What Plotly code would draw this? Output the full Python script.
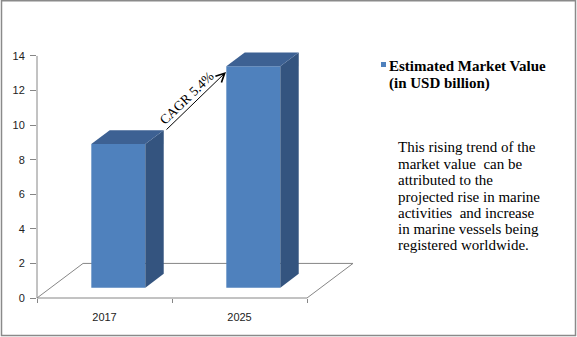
import plotly.graph_objects as go

# ---------------- data ----------------
categories = ["2017", "2025"]
market_value = [8.3, 12.8]          # USD billion
y_ticks = [0, 2, 4, 6, 8, 10, 12, 14]
cagr_label = "CAGR 5.4%"
legend_lines = ["Estimated Market Value", "(in USD billion)"]
note_lines = [
    "This rising trend of the",
    "market value\u00a0 can be",
    "attributed to the",
    "projected rise in marine",
    "activities\u00a0 and increase",
    "in marine vessels being",
    "registered worldwide.",
]

# ---------------- geometry / style ----------------
W, H = 577, 337
PL, PR, PT, PB = 37, 365, 46, 300      # plot area in px
XPX0, XUNIT = 37, 135.0                # px of x=-0.5, px per category
YPX0, YUNIT = 298, 17.29               # px of y=0, px per unit
xr = [-0.5, -0.5 + (PR - XPX0) / XUNIT]
yr = [-(PB - YPX0) / YUNIT, (YPX0 - PT) / YUNIT]


def pxx(x):
    return (x - PL) / (PR - PL)


def pxy(y):
    return (PB - y) / (PB - PT)


def dx_(x):  # pixel x -> data x
    return -0.5 + (x - XPX0) / XUNIT


def dy_(y):  # pixel y -> data y
    return (YPX0 - y) / YUNIT


DX, DY = 0.341, 2.0       # full floor depth in data units
D0, D1 = 0.30, 0.70       # bar depth span (fraction)
HW = 0.2                  # bar half width

FRONT = "#4F81BD"
SIDE = "#34547F"
TOP = "#3D6193"
GRAY = "#868686"
SERIF = "Liberation Serif"
SANS = "Liberation Sans"

xs = list(range(len(categories)))

fig = go.Figure()

# front faces
fig.add_trace(go.Bar(
    x=[i + D0 * DX for i in xs], y=market_value, base=D0 * DY,
    width=2 * HW, marker=dict(color=FRONT, line=dict(width=0)),
    showlegend=False, hoverinfo="skip",
))

# side and top faces
for i, v in zip(xs, market_value):
    xl, xrr = i - HW, i + HW
    side_x = [xrr + D0 * DX, xrr + D1 * DX, xrr + D1 * DX, xrr + D0 * DX, xrr + D0 * DX]
    side_y = [D0 * DY, D1 * DY, v + D1 * DY, v + D0 * DY, D0 * DY]
    fig.add_trace(go.Scatter(x=side_x, y=side_y, fill="toself", fillcolor=SIDE,
                             mode="lines", line=dict(width=0, color=SIDE),
                             showlegend=False, hoverinfo="skip"))
    top_x = [xl + D0 * DX, xrr + D0 * DX, xrr + D1 * DX, xl + D1 * DX, xl + D0 * DX]
    top_y = [v + D0 * DY, v + D0 * DY, v + D1 * DY, v + D1 * DY, v + D0 * DY]
    fig.add_trace(go.Scatter(x=top_x, y=top_y, fill="toself", fillcolor=TOP,
                             mode="lines", line=dict(width=0, color=TOP),
                             showlegend=False, hoverinfo="skip"))

shapes = []
# floor (below traces)
x_lo, x_hi = -0.5, len(categories) - 0.5
shapes.append(dict(
    type="path", xref="x", yref="y", layer="below",
    path=f"M{x_lo},0 L{x_hi},0 L{x_hi + DX},{DY} L{x_lo + DX},{DY} Z",
    line=dict(color=GRAY, width=1), fillcolor="rgba(0,0,0,0)",
))
# y axis line
shapes.append(dict(type="line", xref="paper", yref="y", x0=0, x1=0,
                   y0=0, y1=y_ticks[-1], line=dict(color=GRAY, width=1)))
# outer border
shapes.append(dict(type="rect", xref="paper", yref="paper",
                   x0=pxx(1.5), x1=pxx(575.5), y0=pxy(335.5), y1=pxy(0.8),
                   line=dict(color="#8a8a8a", width=1.5)))
# legend marker
shapes.append(dict(type="rect", xref="paper", yref="paper",
                   x0=pxx(381), x1=pxx(386), y0=pxy(67), y1=pxy(62),
                   line=dict(width=0), fillcolor=FRONT))

annotations = []
# CAGR arrow
annotations.append(dict(
    x=dx_(226), y=dy_(72), ax=dx_(165), ay=dy_(131), xref="x", yref="y",
    axref="x", ayref="y", text="", showarrow=True, arrowhead=5,
    arrowsize=1.7, arrowwidth=1, arrowcolor="black", standoff=0, startstandoff=0,
))
annotations.append(dict(
    x=dx_(186), y=dy_(98), xref="x", yref="y", text=cagr_label, showarrow=False,
    textangle=-44, font=dict(family=SERIF, size=13.5, color="black"),
))
# legend text
for k, (line, ypix) in enumerate(zip(legend_lines, [66, 84])):
    annotations.append(dict(
        x=pxx(387), y=pxy(ypix), xref="paper", yref="paper", xanchor="left",
        yanchor="middle", text=f"<b>{line}</b>", showarrow=False,
        font=dict(family=SERIF, size=15, color="black"),
    ))
# note text
note_y = [147, 164, 180, 197, 213, 229, 245]
for line, ypix in zip(note_lines, note_y):
    annotations.append(dict(
        x=pxx(396), y=pxy(ypix), xref="paper", yref="paper", xanchor="left",
        yanchor="middle", text=line, showarrow=False,
        font=dict(family=SERIF, size=15, color="black"),
    ))

fig.update_layout(
    width=W, height=H,
    margin=dict(l=PL, r=W - PR, t=PT, b=H - PB, pad=0),
    paper_bgcolor="white", plot_bgcolor="white",
    showlegend=False,
    shapes=shapes, annotations=annotations,
    xaxis=dict(
        range=xr, tickmode="array", tickvals=xs, ticktext=categories,
        ticks="", showline=False, showgrid=False, zeroline=False,
        anchor="free", position=pxy(YPX0),
        tickfont=dict(family=SANS, size=11, color="#222"),
        ticklabelstandoff=11,
        minor=dict(tickmode="array", tickvals=[-0.5, 0.5, 1.5], ticks="outside",
                   ticklen=4, tickcolor=GRAY, tickwidth=1, showgrid=False),
        fixedrange=True,
    ),
    yaxis=dict(
        range=yr, tickmode="array", tickvals=y_ticks, ticks="outside",
        ticklen=6, tickcolor=GRAY, tickwidth=1, showline=False, showgrid=False,
        zeroline=False, tickfont=dict(family=SANS, size=11, color="#222"),
        ticklabelstandoff=3, fixedrange=True,
    ),
)

fig.write_html("out.html")
